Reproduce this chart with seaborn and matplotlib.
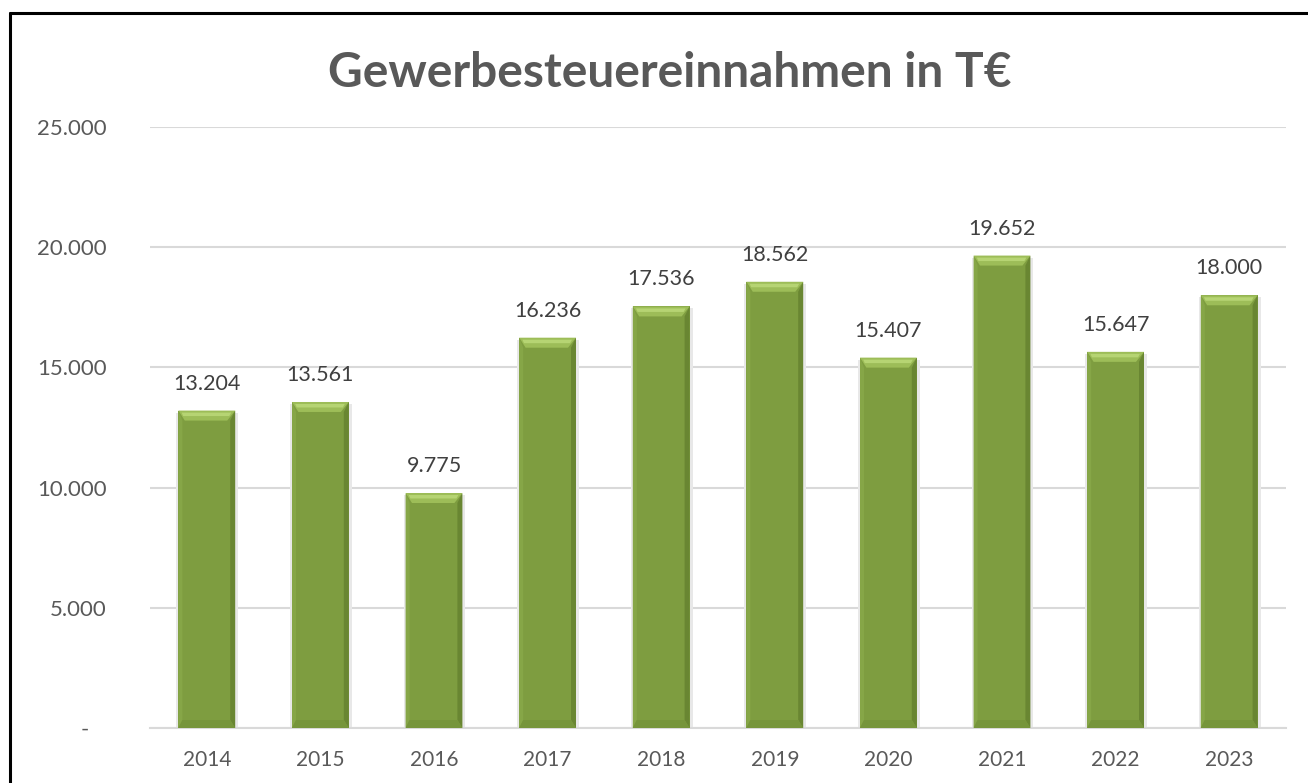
import matplotlib
matplotlib.use("Agg")
import matplotlib.pyplot as plt
import seaborn as sns
import pandas as pd
from matplotlib.patches import Polygon
from matplotlib.lines import Line2D

years = ["2014", "2015", "2016", "2017", "2018", "2019", "2020", "2021", "2022", "2023"]
values = [13204, 13561, 9775, 16236, 17536, 18562, 15407, 19652, 15647, 18000]
yticks = [0, 5000, 10000, 15000, 20000, 25000]
ytick_labels = ["-   ", "5.000", "10.000", "15.000", "20.000", "25.000"]
title = "Gewerbesteuereinnahmen in T€"

def fmt(v):
    return f"{v:,}".replace(",", ".")

sns.set_theme(style="white")
plt.rcParams["font.family"] = ["Lato", "DejaVu Sans"]

W, H = 1308, 783
fig = plt.figure(figsize=(W / 100, H / 100), dpi=100)
ax = fig.add_axes([150 / W, (H - 728) / H, 1136 / W, 601 / H])

df = pd.DataFrame({"year": years, "value": values})
base = "#7e9d40"
sns.barplot(data=df, x="year", y="value", color=base, width=0.5, saturation=1,
            ax=ax, zorder=3, linewidth=0)

ax.set_ylim(0, 25000)
ax.set_xlim(-0.5, len(years) - 0.5)
ax.set_yticks(yticks)
ax.set_yticklabels(ytick_labels)
ax.set_xlabel("")
ax.set_ylabel("")
ax.yaxis.grid(True, color="#d9d9d9", linewidth=1.5, zorder=0)
ax.xaxis.grid(False)
for s in ["top", "right", "left"]:
    ax.spines[s].set_visible(False)
ax.spines["bottom"].set_color("#d9d9d9")
ax.spines["bottom"].set_linewidth(1.5)
ax.tick_params(axis="y", length=0, pad=31, labelsize=16, labelcolor="#595959")
ax.tick_params(axis="x", length=0, pad=16, labelsize=15, labelcolor="#595959")

# bevel effect derived from the drawn bars
px_x = (len(years)) / 1136.0
px_y = 25000 / 601.0
for p in list(ax.patches):
    x0, y0 = p.get_x(), p.get_y()
    w, h = p.get_width(), p.get_height()
    x1, y1 = x0 + w, y0 + h
    # soft shadow
    ax.add_patch(Polygon([(x0 - 2 * px_x, y0), (x1 + 3 * px_x, y0),
                          (x1 + 3 * px_x, y1 - 2 * px_y), (x0 - 2 * px_x, y1 - 2 * px_y)],
                         closed=True, facecolor="#e8e8e8", edgecolor="none", zorder=2.5))
    bl, br, bt, bb = 4 * px_x, 5 * px_x, 10 * px_y, 8 * px_y
    left = Polygon([(x0, y1), (x0 + bl, y1 - bt), (x0 + bl, y0 + bb), (x0, y0)],
                   closed=True, facecolor="#86a647", edgecolor="none", zorder=4)
    right = Polygon([(x1, y1), (x1 - br, y1 - bt), (x1 - br, y0 + bb), (x1, y0)],
                    closed=True, facecolor="#698632", edgecolor="none", zorder=4)
    bottom = Polygon([(x0, y0), (x1, y0), (x1 - br, y0 + bb), (x0 + bl, y0 + bb)],
                     closed=True, facecolor="#76953b", edgecolor="none", zorder=4)
    top = Polygon([(x0, y1), (x1, y1), (x1 - br * 1.6, y1 - bt), (x0 + bl * 1.6, y1 - bt)],
                  closed=True, facecolor="#9dbd58", edgecolor="none", zorder=4)
    top2 = Polygon([(x0 + bl * 0.8, y1 - bt * 0.2), (x1 - br * 0.8, y1 - bt * 0.2),
                    (x1 - br * 1.2, y1 - bt * 0.55), (x0 + bl * 1.2, y1 - bt * 0.55)],
                   closed=True, facecolor="#b6d473", edgecolor="none", zorder=4)
    for poly in (left, right, bottom, top, top2):
        ax.add_patch(poly)
    ax.text(x0 + w / 2, y1 + 17 * px_y, fmt(int(round(h))), ha="center", va="bottom",
            fontsize=15.5, color="#404040", zorder=5)

fig.text(670 / W, (H - 73) / H, title, ha="center", va="center", fontsize=34.5,
         fontweight="bold", color="#595959")

# outer frame (top and left edges visible)
fig.add_artist(Line2D([10 / W, 1.0], [(H - 13) / H, (H - 13) / H], color="black",
                      linewidth=2.2, transform=fig.transFigure))
fig.add_artist(Line2D([10 / W, 10 / W], [(H - 13) / H, 0], color="black",
                      linewidth=2.2, transform=fig.transFigure))

fig.savefig("out.png", dpi=100, facecolor="white")
